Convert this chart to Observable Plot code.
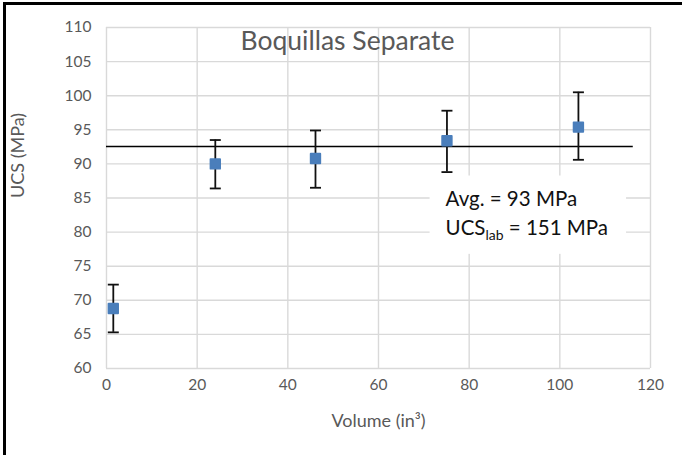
<!DOCTYPE html>
<html>
<head>
<meta charset="utf-8">
<script src="https://cdn.jsdelivr.net/npm/d3@7"></script>
<script src="https://cdn.jsdelivr.net/npm/@observablehq/plot@0.6"></script>
<style>
  html, body { margin: 0; padding: 0; background: #fff; }
  #wrap { position: relative; width: 682px; height: 455px; overflow: hidden; }
  #wrap svg { position: absolute; left: 0; top: 0; }
  #frame { position: absolute; left: 3px; top: 2px; right: -20px; bottom: -20px;
           border-top: 3px solid #000; border-left: 3px solid #000; pointer-events: none; }
</style>
</head>
<body>
<div id="wrap"><div id="frame"></div></div>
<script>
// ---- data ----
const volume   = [1.5, 24.0, 46.1, 75.1, 104.1];      // in^3
const ucs      = [68.8, 90.0, 90.8, 93.4, 95.4];      // MPa
const ucsLow   = [65.3, 86.4, 86.5, 88.8, 90.6];
const ucsHigh  = [72.3, 93.5, 94.9, 97.8, 100.5];
const avgUcs   = 92.55;
const avgSpan  = [0, 116.2];
const xTicks   = [0, 20, 40, 60, 80, 100, 120];
const yTicks   = [60, 65, 70, 75, 80, 85, 90, 95, 100, 105, 110];
const titleText = "Boquillas Separate";
const xLabel    = "Volume (in³)";
const yLabel    = "UCS (MPa)";
const annLines  = ["Avg. = 93 MPa", "UCS_lab = 151 MPa"];
const annX      = 74.8;
const annY      = [83.9, 79.6];

const rows = volume.map((v, i) => ({v, u: ucs[i], lo: ucsLow[i], hi: ucsHigh[i]}));
const ann  = annLines.map((t, i) => ({t, x: annX, y: annY[i]}));

const FONT = "Lato, 'Open Sans', sans-serif";
const GRAY = "#595959";

// horizontal cap symbol for error bars
const capSymbol = {
  draw(context, size) {
    const r = Math.sqrt(size / Math.PI);
    context.moveTo(-r, 0);
    context.lineTo(r, 0);
  }
};

const chart = Plot.plot({
  width: 682,
  height: 455,
  marginLeft: 106,
  marginRight: 32,
  marginTop: 27,
  marginBottom: 87,
  style: { fontFamily: FONT, background: "transparent", overflow: "visible" },
  x: { domain: [0, 120], ticks: xTicks },
  y: { domain: [60, 110], ticks: yTicks },
  marks: [
    Plot.gridX(xTicks, { stroke: "#d9d9d9", strokeOpacity: 1, strokeWidth: 1.4 }),
    Plot.gridY(yTicks, { stroke: "#d9d9d9", strokeOpacity: 1, strokeWidth: 1.4 }),
    Plot.axisX(xTicks, { tickSize: 0, tickPadding: 10, fontSize: 15.5, fill: GRAY, label: null }),
    Plot.axisY(yTicks, { tickSize: 0, tickPadding: 15, fontSize: 15.5, fill: GRAY, label: null }),
    // axis titles
    Plot.text([xLabel], { frameAnchor: "bottom", dy: 58, fontSize: 18, fill: GRAY }),
    Plot.text([yLabel], { frameAnchor: "left", dx: -88, rotate: -90, fontSize: 18, fill: GRAY }),
    // chart title
    Plot.text([titleText], { frameAnchor: "top", lineAnchor: "bottom", dx: -31, dy: 22, fontSize: 26.5, fill: GRAY }),
    // average line
    Plot.ruleY([avgUcs], { x1: avgSpan[0], x2: avgSpan[1], stroke: "#000", strokeWidth: 1.4 }),
    // error bars
    Plot.ruleX(rows, { x: "v", y1: "lo", y2: "hi", stroke: "#111", strokeWidth: 1.8 }),
    Plot.dot(rows, { x: "v", y: "lo", symbol: capSymbol, r: 5.5, stroke: "#111", strokeWidth: 1.8, fill: "none" }),
    Plot.dot(rows, { x: "v", y: "hi", symbol: capSymbol, r: 5.5, stroke: "#111", strokeWidth: 1.8, fill: "none" }),
    // data markers
    Plot.dot(rows, { x: "v", y: "u", symbol: "square", r: 5.4, fill: "#4a7ebb", stroke: "#4a7ebb", strokeWidth: 1.8, strokeLinejoin: "round" }),
    // annotation
    Plot.text(ann, { x: "x", y: "y", text: "t", textAnchor: "start", lineAnchor: "bottom", fontSize: 20.5, fill: "#111" })
  ]
});

document.getElementById("wrap").insertBefore(chart, document.getElementById("frame"));

// subscript in the annotation and a white text-box behind it
let annNode = null;
d3.select(chart).selectAll("text").each(function () {
  const s = this.textContent;
  if (!annLines.includes(s)) return;
  annNode = this.parentNode;
  const k = s.indexOf("_");
  if (k < 0) return;
  const rest = s.slice(k + 1);
  const m = rest.indexOf(" ");
  const sub = rest.slice(0, m), tail = rest.slice(m);
  const t = d3.select(this);
  t.text(s.slice(0, k));
  t.append("tspan").attr("dy", 5).attr("font-size", "0.68em").text(sub);
  t.append("tspan").attr("dy", -5).text(tail);
});
if (annNode) {
  const bb = annNode.getBBox();
  d3.select(annNode).insert("rect", ":first-child")
    .attr("x", bb.x - 16).attr("y", bb.y - 10)
    .attr("width", bb.width + 34).attr("height", bb.height + 21)
    .attr("fill", "#fff");
}
</script>
</body>
</html>
